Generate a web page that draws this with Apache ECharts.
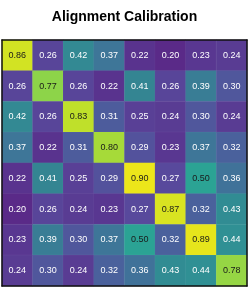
<!DOCTYPE html>
<html><head><meta charset="utf-8">
<script src="https://cdn.jsdelivr.net/npm/echarts@6/dist/echarts.min.js"></script>
<style>html,body{margin:0;padding:0;background:#fff}#c{width:249px;height:289px}</style>
</head><body><div id="c"></div>
<script>
const title = "Alignment Calibration";
const categories = ["0","1","2","3","4","5","6","7"];
const row0 = [0.86,0.26,0.42,0.37,0.22,0.20,0.23,0.24];
const row1 = [0.26,0.77,0.26,0.22,0.41,0.26,0.39,0.30];
const row2 = [0.42,0.26,0.83,0.31,0.25,0.24,0.30,0.24];
const row3 = [0.37,0.22,0.31,0.80,0.29,0.23,0.37,0.32];
const row4 = [0.22,0.41,0.25,0.29,0.90,0.27,0.50,0.36];
const row5 = [0.20,0.26,0.24,0.23,0.27,0.87,0.32,0.43];
const row6 = [0.23,0.39,0.30,0.37,0.50,0.32,0.89,0.44];
const row7 = [0.24,0.30,0.24,0.32,0.36,0.43,0.44,0.78];
const rows = [row0,row1,row2,row3,row4,row5,row6,row7];
const palette = ["#5a2a88","#58499c","#456a9c","#348592","#2a9e96","#2fae8f","#45bb80","#62c76a","#85d24e","#bfe02a","#ece61a"];

const data = [];
rows.forEach((r, yi) => r.forEach((v, xi) => {
  data.push({value:[xi, yi, v], label:{color: v >= 0.45 ? '#1a1a1a' : '#ffffff'}});
}));

const chart = echarts.init(document.getElementById('c'), null, {renderer:'canvas'});
const axisBase = {type:'category', data:categories, axisLabel:{show:false}, axisTick:{show:false}, splitLine:{show:false}, axisLine:{show:true, lineStyle:{color:'#111', width:1.5}}, z:10};
chart.setOption({
  animation:false,
  title:{text:title, left:'center', top:5, textStyle:{fontFamily:'Liberation Sans, Arial, sans-serif', fontSize:14, fontWeight:'bold', color:'#000'}},
  grid:{left:2, right:2, top:40, bottom:3},
  xAxis:[Object.assign({position:'bottom'}, axisBase), Object.assign({position:'top'}, axisBase)],
  yAxis:[Object.assign({position:'left', inverse:true}, axisBase), Object.assign({position:'right', inverse:true}, axisBase)],
  visualMap:{show:false, min:0.2, max:0.9, dimension:2, inRange:{color:palette}},
  series:[{type:'heatmap', xAxisIndex:0, yAxisIndex:0, data:data,
    label:{show:true, fontSize:9, fontFamily:'Liberation Sans, Arial, sans-serif', formatter:p=>p.value[2].toFixed(2)},
    itemStyle:{borderColor:'rgba(255,255,255,0.08)', borderWidth:0.5}}]
});
</script></body></html>
